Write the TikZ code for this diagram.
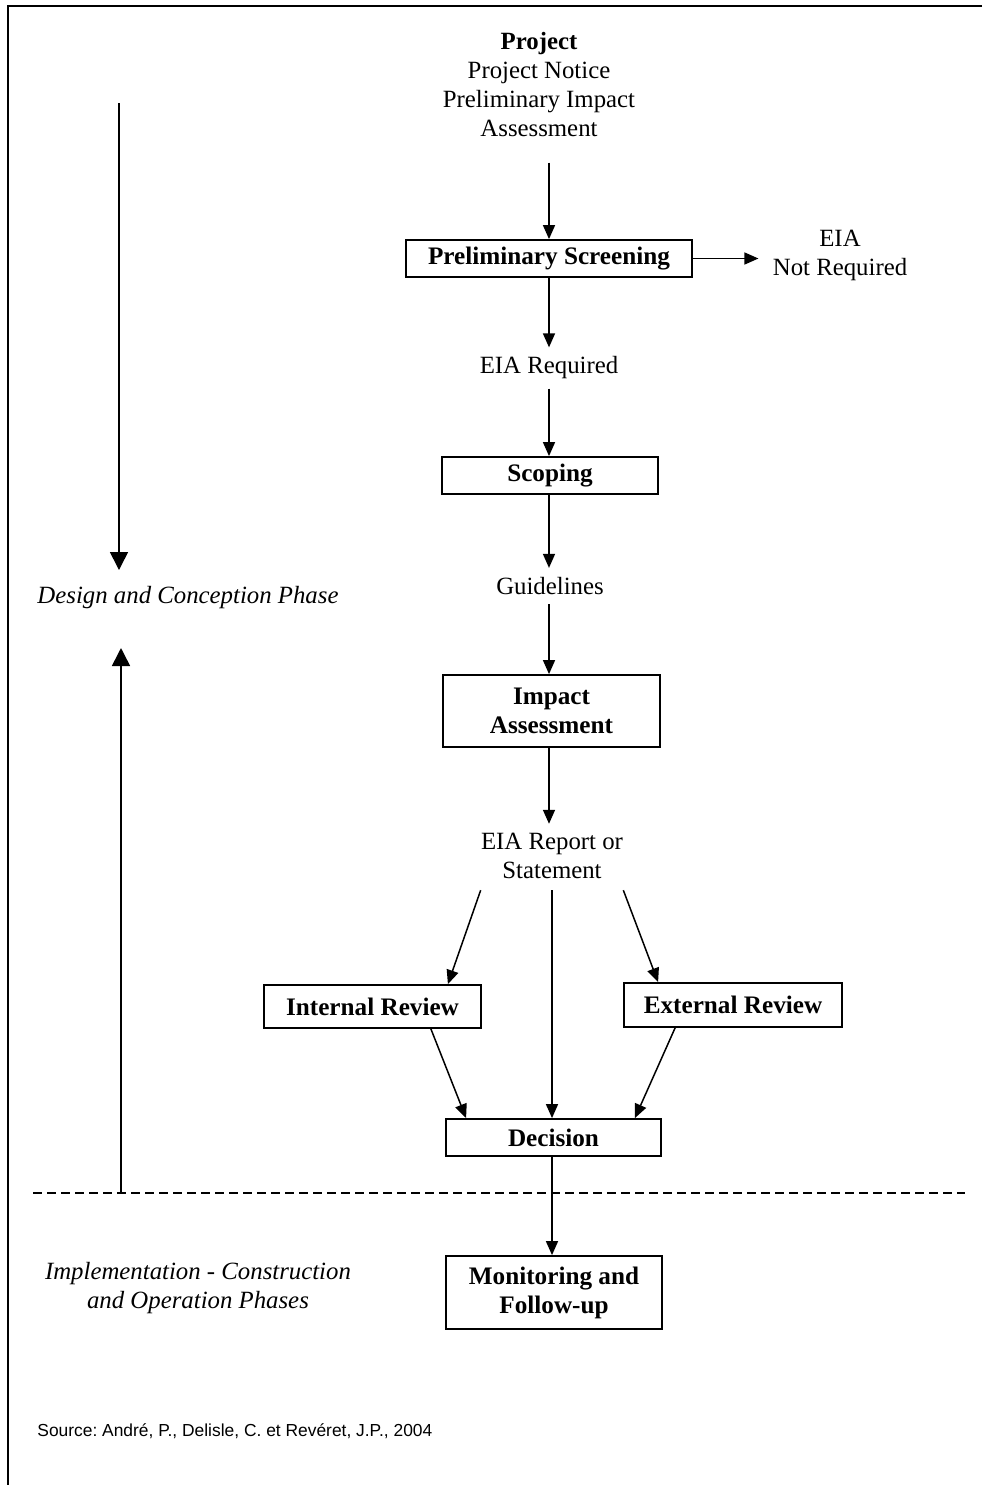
\documentclass[tikz,border=0pt]{standalone}
\usepackage{fontspec}
\setmainfont{Liberation Serif}
\setsansfont{Liberation Sans}
\usetikzlibrary{arrows.meta,calc}
\frenchspacing
\begin{document}
\begin{tikzpicture}[x=0.5pt,y=-0.5pt,
  txt/.style={font=\fontsize{12.4}{14.5}\selectfont, align=center, inner xsep=0pt, inner ysep=4.5pt},
  box/.style={draw, line width=0.9pt, font=\fontsize{12.6}{14.5}\selectfont\bfseries, align=center, inner sep=0pt},
  arr/.style={line width=0.75pt, -{Triangle[length=7pt,width=6pt]}},
  phasearr/.style={line width=0.8pt, -{Triangle[length=9pt,width=9pt]}},
  phase/.style={font=\fontsize{12.4}{14.5}\selectfont\itshape, align=center},
  divider/.style={line width=1pt, dash pattern=on 4.5pt off 2.5pt}
]
\useasboundingbox (0,0) rectangle (982,1485);

% page frame (top and left edges)
\draw[line width=1.3pt] (982,6) -- (8,6) -- (8,1485);

% main flow
\node[txt] (proj) at (539,85) {\textbf{Project}\\Project Notice\\Preliminary Impact\\Assessment};
\node[box, minimum width=143pt, minimum height=18.5pt] (screen) at (549,258.5) {Preliminary Screening};
\node[txt, inner xsep=7pt] (notreq) at (840,255) {EIA\\Not Required};
\node[txt] (req) at (549,368) {EIA Required};
\node[box, minimum width=108pt, minimum height=18.5pt] (scope) at (550,475.5) {Scoping};
\node[txt] (guide) at (550,586) {Guidelines};
\node[box, minimum width=108.5pt, minimum height=36pt] (impact) at (551.5,711) {Impact\\Assessment};
\node[txt] (report) at (552,856) {EIA Report or\\Statement};
\node[box, minimum width=108.5pt, minimum height=21.5pt] (intrev) at (372.5,1006.5) {Internal Review};
\node[box, minimum width=109pt, minimum height=22pt] (extrev) at (733,1005) {External Review};
\node[box, minimum width=107.5pt, minimum height=18.5pt] (decision) at (553.5,1137.5) {Decision};
\node[box, minimum width=108pt, minimum height=36.5pt] (monitor) at (554,1292.5) {Monitoring and\\Follow-up};

\draw[arr] ($(proj.south -| screen.north)+(0,16)$) -- (screen.north);
\draw[arr] (screen.east) -- (screen.east -| notreq.west);
\draw[arr] (screen.south) -- (screen.south |- req.north);
\draw[arr] (screen.south |- req.south) -- (scope.north -| screen.south);
\draw[arr] (scope.south -| screen.south) -- (screen.south |- guide.north);
\draw[arr] (screen.south |- guide.south) -- (screen.south |- impact.north);
\draw[arr] (screen.south |- impact.south) -- (screen.south |- report.north);
\draw[arr] ($(report.south west)+(0,2)$) -- ($(intrev.north east)+(-34,0)$);
\draw[arr] ($(report.south east)+(0,2)$) -- ($(extrev.north west)+(35,0)$);
\draw[arr] ($(report.south)+(0,2)$) -- (report.south |- decision.north);
\draw[arr] ($(intrev.south east)+(-51,0)$) -- ($(decision.north west)+(21,0)$);
\draw[arr] ($(extrev.south west)+(52,0)$) -- ($(decision.north east)+(-27,0)$);
\draw[arr] (decision.south -| report.south) -- (monitor.north -| report.south);

% phase markers
\coordinate (designtop) at (119,103);
\coordinate (designend) at (119,570);
\coordinate (implstart) at (121,1193);
\coordinate (implend) at (121,648);
\coordinate (divleft) at (33,1193);
\coordinate (divright) at (965,1193);
\draw[phasearr] (designtop) -- (designend);
\draw[phasearr] (implstart) -- (implend);
\draw[divider] (divleft) -- (divright);
\node[phase] (design) at (188,598) {Design and Conception Phase};
\node[phase] (impl) at (198,1288) {Implementation - Construction\\and Operation Phases};

% source note
\node[anchor=west, inner sep=0pt, font=\sffamily\fontsize{8.7}{10}\selectfont] (source) at (37,1431) {Source: André, P., Delisle, C. et Revéret, J.P., 2004};
\end{tikzpicture}
\end{document}
